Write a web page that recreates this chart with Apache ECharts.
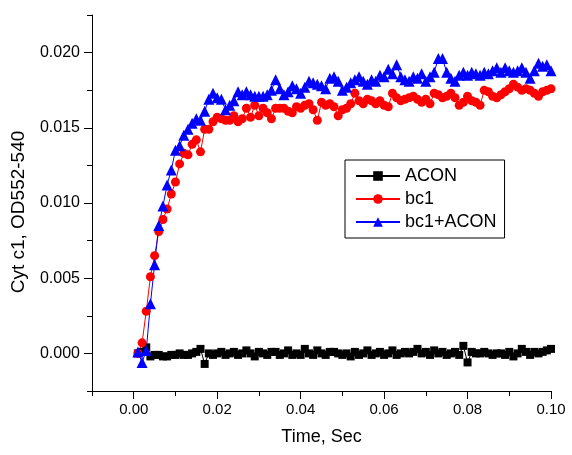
<!DOCTYPE html>
<html>
<head>
<meta charset="utf-8">
<script src="https://cdn.jsdelivr.net/npm/echarts@6/dist/echarts.min.js"></script>
<style>
html,body{margin:0;padding:0;background:#fff;}
#chart{width:572px;height:455px;}
</style>
</head>
<body>
<div id="chart"></div>
<script>
const time = [0.001,0.002,0.003,0.004,0.005,0.006,0.007,0.008,0.009,0.010,
0.011,0.012,0.013,0.014,0.015,0.016,0.017,0.018,0.019,0.020,
0.021,0.022,0.023,0.024,0.025,0.026,0.027,0.028,0.029,0.030,
0.031,0.032,0.033,0.034,0.035,0.036,0.037,0.038,0.039,0.040,
0.041,0.042,0.043,0.044,0.045,0.046,0.047,0.048,0.049,0.050,
0.051,0.052,0.053,0.054,0.055,0.056,0.057,0.058,0.059,0.060,
0.061,0.062,0.063,0.064,0.065,0.066,0.067,0.068,0.069,0.070,
0.071,0.072,0.073,0.074,0.075,0.076,0.077,0.078,0.079,0.080,
0.081,0.082,0.083,0.084,0.085,0.086,0.087,0.088,0.089,0.090,
0.091,0.092,0.093,0.094,0.095,0.096,0.097,0.098,0.099,0.100];

const acon = [0.0000,0.0001,0.0004,-0.0002,-0.0001,-0.0001,-0.0002,-0.0002,-0.0001,-0.0001,
0.0000,-0.0001,-0.0001,0.0000,0.0001,0.0003,-0.0007,0.0000,-0.0001,0.0000,
0.0001,-0.0001,0.0000,0.0001,-0.0001,0.0000,0.0002,0.0000,-0.0002,0.0001,
0.0000,-0.0001,0.0001,0.0001,-0.0001,0.0000,0.0002,-0.0001,0.0000,-0.0001,
0.0003,0.0000,-0.0001,0.0002,0.0000,-0.0001,0.0001,0.0001,0.0000,-0.0001,
0.0000,-0.0002,0.0001,-0.0001,0.0000,0.0002,-0.0001,0.0000,0.0001,-0.0001,
0.0000,0.0002,-0.0001,0.0000,0.0001,0.0000,0.0001,0.0003,0.0000,0.0001,
-0.0001,0.0002,0.0000,0.0001,-0.0001,0.0000,0.0001,-0.0001,0.0005,-0.0006,
0.0001,0.0000,0.0000,0.0001,0.0000,-0.0001,0.0000,0.0000,-0.0001,0.0001,
-0.0002,0.0000,0.0003,0.0001,-0.0001,0.0001,0.0000,0.0001,0.0002,0.0003];

const bc1 = [0.0000,0.0007,0.0028,0.0051,0.0065,0.0081,0.0089,0.0096,0.0106,0.0114,
0.0126,0.0133,0.0132,0.0139,0.0142,0.0134,0.0149,0.0149,0.0154,0.0157,
0.0156,0.0155,0.0155,0.0158,0.0154,0.0156,0.0163,0.0157,0.0165,0.0158,
0.0163,0.0160,0.0156,0.0163,0.0163,0.0163,0.0161,0.0160,0.0164,0.0163,
0.0165,0.0166,0.0162,0.0155,0.0167,0.0165,0.0166,0.0164,0.0158,0.0162,
0.0163,0.0166,0.0173,0.0168,0.0166,0.0169,0.0168,0.0166,0.0168,0.0165,
0.0164,0.0173,0.0170,0.0168,0.0169,0.0170,0.0171,0.0169,0.0167,0.0169,
0.0166,0.0173,0.0172,0.0170,0.0171,0.0173,0.0170,0.0165,0.0167,0.0171,
0.0168,0.0167,0.0165,0.0175,0.0174,0.0171,0.0170,0.0172,0.0174,0.0176,
0.0179,0.0177,0.0175,0.0176,0.0175,0.0173,0.0171,0.0174,0.0175,0.0176];

const bc1acon = [0.0001,-0.0006,0.0002,0.0033,0.0059,0.0085,0.0098,0.0112,0.0122,0.0135,
0.0138,0.0145,0.0149,0.0153,0.0156,0.0155,0.0161,0.0169,0.0173,0.0170,
0.0169,0.0162,0.0165,0.0168,0.0174,0.0172,0.0174,0.0172,0.0171,0.0171,
0.0171,0.0172,0.0175,0.0182,0.0176,0.0172,0.0174,0.0178,0.0176,0.0173,
0.0177,0.0181,0.0180,0.0179,0.0178,0.0176,0.0183,0.0184,0.0181,0.0175,
0.0177,0.0180,0.0182,0.0184,0.0181,0.0179,0.0182,0.0181,0.0185,0.0184,
0.0189,0.0186,0.0192,0.0184,0.0182,0.0181,0.0184,0.0183,0.0186,0.0181,
0.0184,0.0187,0.0196,0.0196,0.0187,0.0183,0.0181,0.0185,0.0187,0.0185,
0.0187,0.0186,0.0185,0.0187,0.0186,0.0188,0.0190,0.0187,0.0190,0.0188,
0.0187,0.0188,0.0190,0.0187,0.0183,0.0188,0.0193,0.0191,0.0192,0.0188];

const xMajorTicks = [0.00,0.02,0.04,0.06,0.08,0.10];
const yMajorTicks = [0.000,0.005,0.010,0.015,0.020];
const seriesNames = ['ACON','bc1','bc1+ACON'];

const FONT = '"Liberation Sans", Arial, sans-serif';
const pair = (xs, ys) => xs.map((x, i) => [x, ys[i]]);

const chart = echarts.init(document.getElementById('chart'));
const axisLineStyle = {color:'#000', width:1};
chart.setOption({
  animation: false,
  backgroundColor: '#fff',
  grid: {left: 92, right: 21, top: 15, bottom: 64, containLabel: false},
  legend: {
    orient: 'vertical', left: 345, top: 160,
    data: seriesNames,
    backgroundColor: '#fff',
    borderColor: '#000', borderWidth: 1, borderRadius: 0,
    padding: [7, 8, 7, 10],
    itemWidth: 44, itemHeight: 12, itemGap: 5,
    textStyle: {fontFamily: FONT, fontSize: 18, color: '#000', lineHeight: 18}
  },
  xAxis: [{
    type: 'value', min: -0.01, max: 0.10, position: 'bottom',
    axisLine: {show: true, onZero: false, lineStyle: axisLineStyle},
    axisTick: {show: true, customValues: xMajorTicks, length: 8, lineStyle: axisLineStyle},
    axisLabel: {customValues: xMajorTicks, formatter: v => v.toFixed(2), fontFamily: FONT, fontSize: 15, color: '#000', margin: 11},
    splitLine: {show: false},
    name: 'Time, Sec', nameLocation: 'middle', nameGap: 37,
    nameTextStyle: {fontFamily: FONT, fontSize: 18, color: '#000'}
  }, {
    type: 'value', min: -0.01, max: 0.10, interval: 0.01, position: 'bottom', offset: 0,
    axisLine: {show: false, onZero: false},
    axisTick: {show: true, length: 5, lineStyle: axisLineStyle},
    axisLabel: {show: false},
    splitLine: {show: false}
  }],
  yAxis: [{
    type: 'value', min: -0.0025, max: 0.0225, position: 'left',
    axisLine: {show: true, onZero: false, lineStyle: axisLineStyle},
    axisTick: {show: true, customValues: yMajorTicks, length: 8, lineStyle: axisLineStyle},
    axisLabel: {customValues: yMajorTicks, formatter: v => v.toFixed(3), fontFamily: FONT, fontSize: 16, color: '#000', margin: 12},
    splitLine: {show: false},
    name: 'Cyt c1, OD552-540', nameLocation: 'middle', nameGap: 64,
    nameTextStyle: {fontFamily: FONT, fontSize: 19, color: '#000', padding: [0, 18, 0, 0]}
  }, {
    type: 'value', min: -0.0025, max: 0.0225, interval: 0.0025, position: 'left', offset: 0,
    axisLine: {show: false, onZero: false},
    axisTick: {show: true, length: 5, lineStyle: axisLineStyle},
    axisLabel: {show: false},
    splitLine: {show: false}
  }],
  series: [{
    name: seriesNames[0], type: 'line', data: pair(time, acon),
    symbol: 'rect', symbolSize: 8, showAllSymbol: true,
    itemStyle: {color: '#000'}, lineStyle: {color: '#000', width: 1}
  }, {
    name: seriesNames[1], type: 'line', data: pair(time, bc1),
    symbol: 'circle', symbolSize: 9, showAllSymbol: true,
    itemStyle: {color: '#ff0000'}, lineStyle: {color: '#ff0000', width: 1}
  }, {
    name: seriesNames[2], type: 'line', data: pair(time, bc1acon),
    symbol: 'triangle', symbolSize: 11, showAllSymbol: true,
    itemStyle: {color: '#0000ff'}, lineStyle: {color: '#0000ff', width: 1}
  }]
});
</script>
</body>
</html>
